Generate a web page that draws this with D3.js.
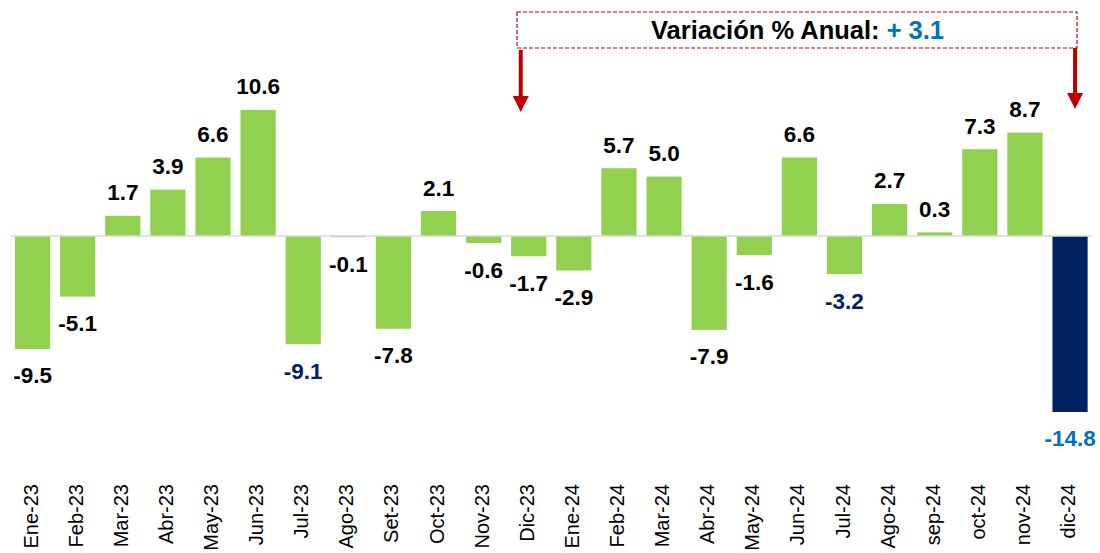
<!DOCTYPE html>
<html>
<head>
<meta charset="utf-8">
<script src="https://cdn.jsdelivr.net/npm/d3@7"></script>
<style>
  html, body { margin: 0; padding: 0; background: #fff; }
  svg { display: block; font-family: "Liberation Sans", Arial, sans-serif; }
</style>
</head>
<body>
<svg id="chart" width="1100" height="553"></svg>
<script>
// monthly % change
var months = ["Ene-23", "Feb-23", "Mar-23", "Abr-23", "May-23", "Jun-23", "Jul-23", "Ago-23",
  "Set-23", "Oct-23", "Nov-23", "Dic-23", "Ene-24", "Feb-24", "Mar-24", "Abr-24", "May-24",
  "Jun-24", "Jul-24", "Ago-24", "sep-24", "oct-24", "nov-24", "dic-24"];
var values = [-9.5, -5.1, 1.7, 3.9, 6.6, 10.6, -9.1, -0.1, -7.8, 2.1, -0.6, -1.7, -2.9, 5.7,
  5.0, -7.9, -1.6, 6.6, -3.2, 2.7, 0.3, 7.3, 8.7, -14.8];
var highlightBar = ["dic-24"];
var navyLabels = ["Jul-23", "Jul-24"];
var blueLabels = ["dic-24"];
var annualText = "Variación % Anual: ";
var annualValue = "+ 3.1";
var spanFrom = "Dic-23", spanTo = "dic-24";

(function () {
  "use strict";
  var C = { green: "#92D050", navy: "#002060", blue: "#0070C0", red: "#C00000", rule: "#D9D9D9", ink: "#000" };
  var svg = d3.select("#chart");

  var x = d3.scaleBand().domain(months).range([10, 1092.6]).paddingInner(0.22).paddingOuter(0.11);
  var y = d3.scaleLinear().domain([-16, 12]).range([236 + 16 * 11.89, 236 - 12 * 11.89]);

  // bars
  svg.append("g").selectAll("rect").data(months).join("rect")
    .attr("x", function (d) { return x(d); })
    .attr("width", x.bandwidth())
    .attr("y", function (d, i) { return Math.min(y(0), y(values[i])); })
    .attr("height", function (d, i) { return Math.abs(y(values[i]) - y(0)); })
    .attr("fill", function (d) { return highlightBar.indexOf(d) >= 0 ? C.navy : C.green; });

  // zero line
  svg.append("line").attr("x1", 10).attr("x2", 1092).attr("y1", y(0)).attr("y2", y(0))
    .attr("stroke", C.rule).attr("stroke-width", 1.5);

  // value labels
  svg.append("g").selectAll("text").data(months).join("text")
    .attr("x", function (d) { return x(d) + x.bandwidth() / 2; })
    .attr("y", function (d, i) { var v = values[i]; return v >= 0 ? y(v) - 15.5 : y(v) + 34.5; })
    .attr("text-anchor", "middle")
    .style("font-size", "22.5px").style("font-weight", "bold")
    .attr("fill", function (d) {
      if (blueLabels.indexOf(d) >= 0) return C.blue;
      if (navyLabels.indexOf(d) >= 0) return C.navy;
      return C.ink;
    })
    .text(function (d, i) { return values[i].toFixed(1); });

  // x axis labels, rotated
  var ax = d3.axisBottom(x).tickSize(0).tickPadding(0);
  var gx = svg.append("g").attr("transform", "translate(0,484)").call(ax);
  gx.select(".domain").remove();
  gx.selectAll("text")
    .attr("transform", "rotate(-90)")
    .attr("x", 0).attr("y", 0).attr("dy", "0.35em").attr("dx", 0)
    .attr("text-anchor", "end")
    .style("font-family", "Liberation Sans, Arial, sans-serif")
    .style("font-size", "20px").attr("fill", C.ink);
  gx.selectAll(".tick").attr("transform", function (d) {
    return "translate(" + (x(d) + x.bandwidth() / 2 - 2) + ",0)";
  });

  // annual variation box
  var bx0 = 517, bx1 = 1077, by0 = 12, by1 = 48;
  svg.append("rect").attr("x", bx0).attr("y", by0).attr("width", bx1 - bx0).attr("height", by1 - by0)
    .attr("fill", "none").attr("stroke", C.red).attr("stroke-width", 1.2).attr("stroke-dasharray", "4 2");
  var t = svg.append("text").attr("x", (bx0 + bx1) / 2 + 0.5).attr("y", 38.5).attr("text-anchor", "middle")
    .style("font-size", "25.5px").style("font-weight", "bold");
  t.append("tspan").attr("fill", C.ink).text(annualText);
  t.append("tspan").attr("fill", C.blue).text(annualValue);

  // arrows
  function arrow(cx, ya, yb) {
    svg.append("line").attr("x1", cx).attr("x2", cx).attr("y1", ya).attr("y2", yb - 14)
      .attr("stroke", C.red).attr("stroke-width", 4);
    svg.append("path")
      .attr("d", "M" + (cx - 8) + "," + (yb - 16) + "L" + (cx + 8) + "," + (yb - 16) + "L" + cx + "," + yb + "Z")
      .attr("fill", C.red);
  }
  arrow(x(spanFrom) + x.bandwidth() / 2 - 8, by1 + 2, 112);
  arrow(x(spanTo) + x.bandwidth() / 2 + 5, by1, 109);
})();
</script>
</body>
</html>
